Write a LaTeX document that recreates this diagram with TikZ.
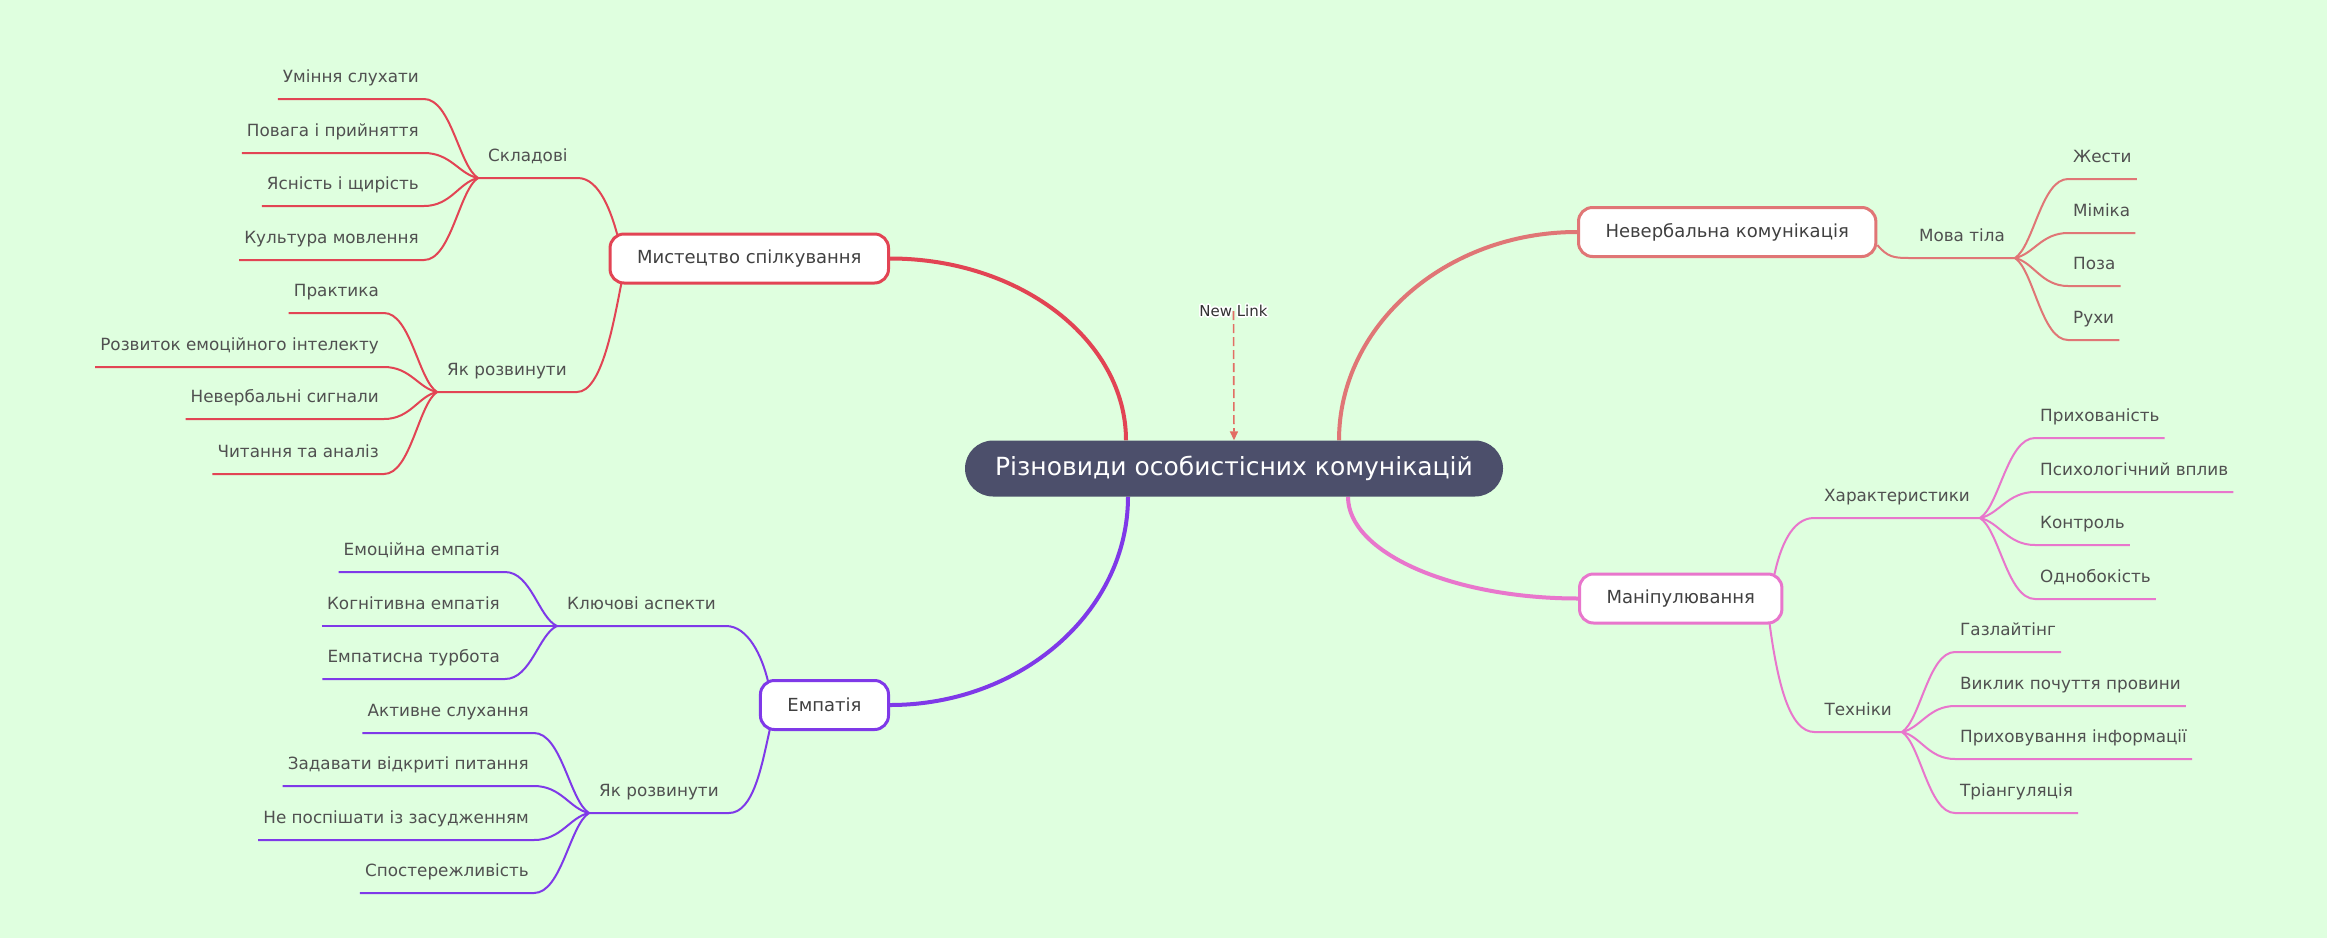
\documentclass[tikz,border=0pt]{standalone}
\usepackage{fontspec}
\setmainfont{DejaVu Sans}
\usetikzlibrary{calc,arrows.meta}
\definecolor{bgc}{RGB}{223,255,223}
\definecolor{cR}{RGB}{226,68,84}
\definecolor{cS}{RGB}{224,118,118}
\definecolor{cP}{RGB}{232,118,204}
\definecolor{cV}{RGB}{127,57,232}
\definecolor{rootc}{RGB}{76,79,107}
\definecolor{txt}{RGB}{80,80,80}
\definecolor{txt2}{RGB}{64,64,64}
\definecolor{nltxt}{RGB}{50,50,50}
\definecolor{linkc}{RGB}{226,110,100}
\pgfdeclarelayer{back}
\pgfdeclarelayer{edges}
\pgfsetlayers{back,edges,main}
\newcommand{\lleaf}[3]{\draw[twig=#3] (#1.south west) -- (#1.south east) .. controls ($(#1.south east)!0.5!(#2 |- #1.south east)$) and ($(#2)!0.35!(#1.south east |- #2) + 0.15*(#1.south east -| #2) - 0.15*(#2)$) .. (#2);}
\newcommand{\rleaf}[3]{\draw[twig=#3] (#2) .. controls ($(#2)!0.35!(#1.south west |- #2) + 0.15*(#1.south west -| #2) - 0.15*(#2)$) and ($(#1.south west)!0.5!(#2 |- #1.south west)$) .. (#1.south west) -- (#1.south east);}
\begin{document}
\begin{tikzpicture}[x=1pt,y=-1pt,
  leaf/.style={font=\fontsize{16.8}{20}\selectfont, text=txt, inner xsep=5pt, inner ysep=12pt, text height=13pt, text depth=4pt},
  mid/.style={leaf, inner xsep=10pt},
  topic/.style={draw, line width=3pt, fill=white, rounded corners=14pt, font=\fontsize{18}{22}\selectfont, text=txt2, inner xsep=27pt, minimum height=49pt},
  root/.style={fill=rootc, rounded corners=28pt, text=white, font=\fontsize{25}{30}\selectfont, minimum height=56pt, minimum width=538pt},
  trunk/.style={draw=#1, line width=4pt},
  twig/.style={draw=#1, line width=2pt},
  nl/.style={font=\fontsize{15}{18}\selectfont, inner sep=0pt},
  link/.style={draw=linkc, line width=1.6pt, dash pattern=on 9pt off 4pt, -{Triangle[length=9pt,width=8pt]}}]
\useasboundingbox (0,0) rectangle (2327,938);
\begin{pgfonlayer}{back}
\fill[bgc] (0,0) rectangle (2327,938);
\end{pgfonlayer}

% root and topics
\node[root] (C) at (1234,468.5) {Різновиди особистісних комунікацій};
\node[topic, draw=cR, anchor=east] (M) at (890,258.5) {Мистецтво спілкування};
\node[topic, draw=cS, anchor=west] (N) at (1577,232) {Невербальна комунікація};
\node[topic, draw=cP, anchor=west] (P) at (1578,598.5) {Маніпулювання};
\node[topic, draw=cV, anchor=east] (E) at (890,705) {Емпатія};

% second level
\node[mid, anchor=south west] (m1) at (478,178) {Складові};
\node[mid, anchor=south west] (m2) at (437,392) {Як розвинути};
\node[mid, anchor=south west] (e1) at (557,626) {Ключові аспекти};
\node[mid, anchor=south west] (e2) at (589,813) {Як розвинути};
\node[mid, anchor=south east] (n1) at (2015,258) {Мова тіла};
\node[mid, anchor=south east] (p1) at (1980,518) {Характеристики};
\node[mid, anchor=south east] (p2) at (1902,732) {Техніки};

% leaves left
\node[leaf, anchor=south east] (m11) at (424,99) {Уміння слухати};
\node[leaf, anchor=south east] (m12) at (424,153) {Повага і прийняття};
\node[leaf, anchor=south east] (m13) at (424,206) {Ясність і щирість};
\node[leaf, anchor=south east] (m14) at (424,260) {Культура мовлення};
\node[leaf, anchor=south east] (m21) at (384,313) {Практика};
\node[leaf, anchor=south east] (m22) at (384,367) {Розвиток емоційного інтелекту};
\node[leaf, anchor=south east] (m23) at (384,419) {Невербальні сигнали};
\node[leaf, anchor=south east] (m24) at (384,474) {Читання та аналіз};
\node[leaf, anchor=south east] (e11) at (505,572) {Емоційна емпатія};
\node[leaf, anchor=south east] (e12) at (505,626) {Когнітивна емпатія};
\node[leaf, anchor=south east] (e13) at (505,679) {Емпатисна турбота};
\node[leaf, anchor=south east] (e21) at (534,733) {Активне слухання};
\node[leaf, anchor=south east] (e22) at (534,786) {Задавати відкриті питання};
\node[leaf, anchor=south east] (e23) at (534,840) {Не поспішати із засудженням};
\node[leaf, anchor=south east] (e24) at (534,893) {Спостережливість};

% leaves right
\node[leaf, anchor=south west] (n11) at (2068,179) {Жести};
\node[leaf, anchor=south west] (n12) at (2068,233) {Міміка};
\node[leaf, anchor=south west] (n13) at (2068,286) {Поза};
\node[leaf, anchor=south west] (n14) at (2068,340) {Рухи};
\node[leaf, anchor=south west] (p11) at (2035,438) {Прихованість};
\node[leaf, anchor=south west] (p12) at (2035,492) {Психологічний вплив};
\node[leaf, anchor=south west] (p13) at (2035,545) {Контроль};
\node[leaf, anchor=south west] (p14) at (2035,599) {Однобокість};
\node[leaf, anchor=south west] (p21) at (1955,652) {Газлайтінг};
\node[leaf, anchor=south west] (p22) at (1955,706) {Виклик почуття провини};
\node[leaf, anchor=south west] (p23) at (1955,759) {Приховування інформації};
\node[leaf, anchor=south west] (p24) at (1955,813) {Тріангуляція};

% New Link label with halo
\coordinate (nlc) at (1233.5,311);
\foreach \a in {0,30,...,330} \node[nl, text=white] at ($(nlc)+(\a:1.6)$) {New Link};
\node[nl, text=nltxt] (NL) at (nlc) {New Link};

\begin{pgfonlayer}{edges}
\draw[trunk=cR] ([xshift=-108pt]C.north) .. controls +(0,-100) and +(130,0) .. (M.east);
\draw[trunk=cS] ([xshift=105pt]C.north) .. controls +(0,-115) and +(-131,0) .. (N.west);
\draw[trunk=cP] ([xshift=114pt]C.south) .. controls +(0,56) and +(-126,0) .. (P.west);
\draw[trunk=cV] ([xshift=-106pt]C.south) .. controls +(0,115) and +(131,0) .. (E.east);

\draw[twig=cR] (m1.south west) -- (m1.south east) .. controls +(22,0) and +(-6,-22) .. ([xshift=9pt,yshift=-3pt]M.north west);
\draw[twig=cR] (m2.south west) -- (m2.south east) .. controls +(25,0) and +(-8,40) .. ([xshift=13pt,yshift=2pt]M.south west);
\draw[twig=cV] (e1.south west) -- (e1.south east) .. controls +(22,0) and +(-6,-25) .. ([xshift=9pt,yshift=-2pt]E.north west);
\draw[twig=cV] (e2.south west) -- (e2.south east) .. controls +(25,0) and +(-8,35) .. ([xshift=11pt,yshift=2pt]E.south west);
\draw[twig=cS] ([yshift=-13pt]N.east) .. controls +(10,12) and +(-15,0) .. (n1.south west) -- (n1.south east);
\draw[twig=cP] ([xshift=-9pt,yshift=-2pt]P.north east) .. controls +(6,-28) and +(-22,0) .. (p1.south west) -- (p1.south east);
\draw[twig=cP] ([xshift=-14pt,yshift=2pt]P.south east) .. controls +(8,60) and +(-25,0) .. (p2.south west) -- (p2.south east);

\lleaf{m11}{m1.south west}{cR}
\lleaf{m12}{m1.south west}{cR}
\lleaf{m13}{m1.south west}{cR}
\lleaf{m14}{m1.south west}{cR}
\lleaf{m21}{m2.south west}{cR}
\lleaf{m22}{m2.south west}{cR}
\lleaf{m23}{m2.south west}{cR}
\lleaf{m24}{m2.south west}{cR}
\lleaf{e11}{e1.south west}{cV}
\lleaf{e12}{e1.south west}{cV}
\lleaf{e13}{e1.south west}{cV}
\lleaf{e21}{e2.south west}{cV}
\lleaf{e22}{e2.south west}{cV}
\lleaf{e23}{e2.south west}{cV}
\lleaf{e24}{e2.south west}{cV}
\rleaf{n11}{n1.south east}{cS}
\rleaf{n12}{n1.south east}{cS}
\rleaf{n13}{n1.south east}{cS}
\rleaf{n14}{n1.south east}{cS}
\rleaf{p11}{p1.south east}{cP}
\rleaf{p12}{p1.south east}{cP}
\rleaf{p13}{p1.south east}{cP}
\rleaf{p14}{p1.south east}{cP}
\rleaf{p21}{p2.south east}{cP}
\rleaf{p22}{p2.south east}{cP}
\rleaf{p23}{p2.south east}{cP}
\rleaf{p24}{p2.south east}{cP}

\draw[link] (NL.center) -- (C.north);
\end{pgfonlayer}
\end{tikzpicture}
\end{document}
